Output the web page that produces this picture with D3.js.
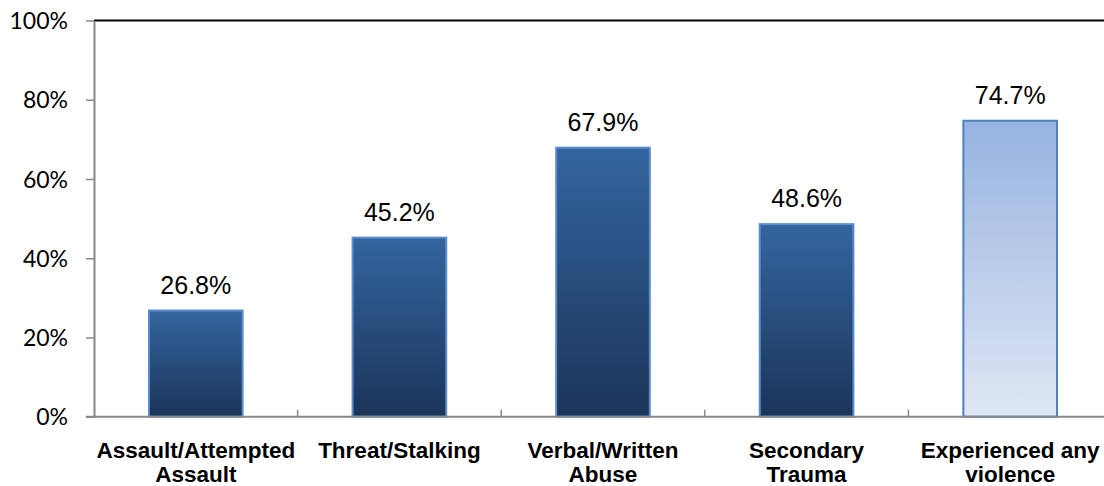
<!DOCTYPE html>
<html><head><meta charset="utf-8">
<script src="https://cdn.jsdelivr.net/npm/d3@7"></script>
<style>body{margin:0;background:#fff}svg{display:block}</style>
</head><body>
<svg id="c" width="1104" height="486"></svg>
<script>
const categories = [["Assault/Attempted","Assault"],["Threat/Stalking"],["Verbal/Written","Abuse"],["Secondary","Trauma"],["Experienced any","violence"]];
const values = [26.8, 45.2, 67.9, 48.6, 74.7];
const yTicks = [0, 20, 40, 60, 80, 100];

const svg = d3.select("#c");
const pLeft = 94, pRight = 1112, pTop = 20.5, pBottom = 416.7;
const x = d3.scaleBand().domain(d3.range(values.length)).range([pLeft, pRight]).paddingInner(0.54).paddingOuter(0.27);
const y = d3.scaleLinear().domain([0, 100]).range([pBottom, pTop]);

const defs = svg.append("defs");
const g1 = defs.append("linearGradient").attr("id","gDark").attr("x1",0).attr("y1",0).attr("x2",0).attr("y2",1);
g1.append("stop").attr("offset","0%").attr("stop-color","#34659f");
g1.append("stop").attr("offset","100%").attr("stop-color","#1b3459");
const g2 = defs.append("linearGradient").attr("id","gLight").attr("x1",0).attr("y1",0).attr("x2",0).attr("y2",1);
g2.append("stop").attr("offset","0%").attr("stop-color","#97b3e1");
g2.append("stop").attr("offset","100%").attr("stop-color","#dfe7f4");

// top border
svg.append("line").attr("x1",pLeft).attr("x2",1104).attr("y1",pTop).attr("y2",pTop).attr("stroke","#000").attr("stroke-width",2);

// y axis
const ya = svg.append("g").attr("transform",`translate(${pLeft},0)`)
  .call(d3.axisLeft(y).tickValues(yTicks).tickFormat(d=>d+"%").tickSize(8).tickSizeOuter(0));
ya.select(".domain").attr("stroke","#888").attr("stroke-width",2);
ya.selectAll(".tick line").attr("stroke","#888").attr("stroke-width",1.5);
ya.selectAll(".tick text").attr("x",-26).attr("dy","0.35em").attr("fill","#000")
  .style("font-family","Lato, 'Open Sans', sans-serif").style("font-size","23px");

// bars
svg.selectAll("rect.bar").data(values).enter().append("rect")
  .attr("x",(d,i)=>x(i)).attr("width",x.bandwidth())
  .attr("y",d=>y(d)).attr("height",d=>y(0)-y(d))
  .attr("fill",(d,i)=>i===values.length-1?"url(#gLight)":"url(#gDark)")
  .attr("stroke",(d,i)=>i===values.length-1?"#4f81bd":"#5b8ccb").attr("stroke-width",2);

// value labels
svg.selectAll("text.val").data(values).enter().append("text")
  .attr("x",(d,i)=>x(i)+x.bandwidth()/2).attr("y",d=>y(d)-17)
  .attr("text-anchor","middle").attr("fill","#000")
  .style("font-family","Arial, 'Liberation Sans', sans-serif").style("font-size","25px")
  .text(d=>d.toFixed(1)+"%");

// x axis
const step = x.step();
const xa = svg.append("g").attr("transform",`translate(0,${pBottom})`);
xa.append("line").attr("x1",86).attr("x2",1104).attr("y1",0).attr("y2",0).attr("stroke","#888").attr("stroke-width",2);
d3.range(1, values.length).forEach(i=>{
  const tx = x(i) - x.paddingInner()*step/2;
  xa.append("line").attr("x1",tx).attr("x2",tx).attr("y1",0).attr("y2",-7).attr("stroke","#888").attr("stroke-width",1.5);
});
categories.forEach((lines,i)=>{
  const cx = x(i)+x.bandwidth()/2;
  const t = xa.append("text").attr("x",cx).attr("y",41.5)
    .attr("text-anchor","middle").attr("fill","#000")
    .style("font-family","Arial, 'Liberation Sans', sans-serif").style("font-size","22.5px").style("font-weight","bold");
  lines.forEach((l,j)=>t.append("tspan").attr("x",cx).attr("dy",j===0?0:23.5).text(l));
});
</script>
</body></html>
